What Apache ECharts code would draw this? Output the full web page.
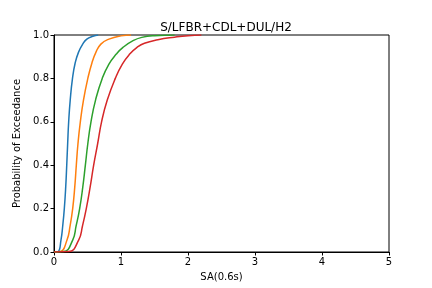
<!DOCTYPE html>
<html>
<head>
<meta charset="utf-8">
<script src="https://cdn.jsdelivr.net/npm/echarts@6/dist/echarts.min.js"></script>
<style>
html,body{margin:0;padding:0;background:#fff;}
#chart{width:432px;height:288px;}
</style>
</head>
<body>
<div id="chart"></div>
<script>
// curves: [SA, probability]
var blueCurve = [[0,0],[0.06,0.002],[0.104,0.055],[0.13,0.12],[0.154,0.2],[0.175,0.3],[0.19,0.4],[0.204,0.5],[0.219,0.6],[0.242,0.7],[0.276,0.8],[0.315,0.87],[0.365,0.92],[0.428,0.958],[0.49,0.981],[0.58,0.994],[0.66,1.0]];
var orangeCurve = [[0,0],[0.094,0.002],[0.194,0.055],[0.24,0.12],[0.279,0.2],[0.31,0.3],[0.333,0.4],[0.358,0.5],[0.393,0.6],[0.44,0.7],[0.505,0.8],[0.565,0.87],[0.625,0.92],[0.70,0.958],[0.82,0.981],[1.0,0.996],[1.15,1.0]];
var greenCurve = [[0,0],[0.145,0.002],[0.279,0.055],[0.33,0.12],[0.383,0.2],[0.43,0.3],[0.468,0.4],[0.505,0.5],[0.552,0.6],[0.62,0.7],[0.72,0.8],[0.82,0.866],[0.93,0.912],[1.03,0.943],[1.18,0.974],[1.31,0.989],[1.5,0.997],[1.8,1.0]];
var redCurve = [[0,0],[0.22,0.002],[0.368,0.055],[0.425,0.12],[0.482,0.2],[0.54,0.3],[0.592,0.4],[0.652,0.5],[0.71,0.6],[0.795,0.7],[0.915,0.8],[1.02,0.866],[1.13,0.912],[1.24,0.943],[1.35,0.962],[1.55,0.978],[1.8,0.99],[2.0,0.997],[2.2,1.0]];
var seriesColors = ['#1f77b4','#ff7f0e','#2ca02c','#d62728'];
var xTicks = [0,1,2,3,4,5];
var yTicks = [0,0.2,0.4,0.6,0.8,1.0];

var chart = echarts.init(document.getElementById('chart'), null, {renderer:'canvas'});
var txt = {color:'#000', fontFamily:'DejaVu Sans', fontSize:10};
var curves = [blueCurve, orangeCurve, greenCurve, redCurve];
chart.setOption({
  animation:false,
  title:{
    text:'S/LFBR+CDL+DUL/H2',
    left:221, top:17, textAlign:'center',
    textStyle:{color:'#000', fontFamily:'DejaVu Sans', fontSize:12, fontWeight:'normal'}
  },
  grid:{left:54, right:43, top:35, bottom:36, show:true, borderColor:'#000', borderWidth:1, backgroundColor:'transparent'},
  xAxis:{
    type:'value', min:xTicks[0], max:xTicks[xTicks.length-1], interval:1,
    name:'SA(0.6s)', nameLocation:'middle', nameGap:20,
    nameTextStyle:txt,
    axisLine:{show:true, onZero:false, lineStyle:{color:'#000', width:1}},
    axisTick:{show:true, length:3.5, lineStyle:{color:'#000'}},
    axisLabel:Object.assign({margin:5}, txt),
    splitLine:{show:false}
  },
  yAxis:{
    type:'value', min:yTicks[0], max:yTicks[yTicks.length-1], interval:0.2,
    name:'Probability of Exceedance', nameLocation:'middle', nameGap:30,
    nameTextStyle:txt,
    axisLine:{show:true, onZero:false, lineStyle:{color:'#000', width:1}},
    axisTick:{show:true, length:3.5, lineStyle:{color:'#000'}},
    axisLabel:Object.assign({margin:5, formatter:function(v){return v.toFixed(1);}}, txt),
    splitLine:{show:false}
  },
  series: curves.map(function(c, i){
    return {
      type:'line', data:c, showSymbol:false, symbol:'none',
      smooth:0.5, clip:true,
      lineStyle:{color:seriesColors[i], width:1.5},
      itemStyle:{color:seriesColors[i]}
    };
  })
});
</script>
</body>
</html>
